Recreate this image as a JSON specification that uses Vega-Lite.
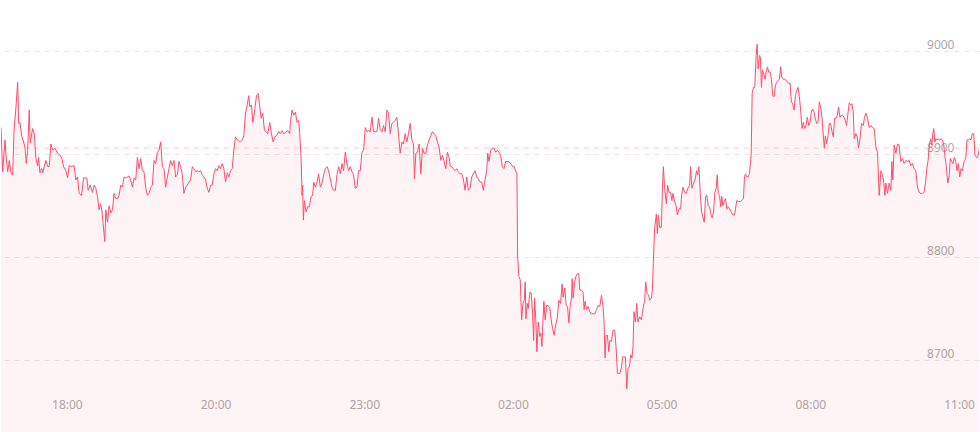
{
  "$schema": "https://vega.github.io/schema/vega-lite/v6.json",
  "width": 980,
  "height": 432,
  "autosize": {"type": "fit", "contains": "padding"},
  "padding": 0,
  "background": "#ffffff",
  "config": {"view": {"stroke": null}},
  "datasets": {
    "ref": [{"ref": 8906}],
    "px": [
{"i":0,"v":8926},{"i":1.7,"v":8883},{"i":4,"v":8914},{"i":5,"v":8899},{"i":6.7,"v":8883},{"i":8.3,"v":8894},{"i":10,"v":8882},{"i":11.7,"v":8880},{"i":13,"v":8922},{"i":15,"v":8946},{"i":16.7,"v":8970},{"i":17.7,"v":8930},{"i":19,"v":8931},{"i":20.7,"v":8918},{"i":22.7,"v":8912},{"i":24,"v":8907},{"i":25.3,"v":8891},{"i":26.7,"v":8904},{"i":28.3,"v":8943},{"i":29.3,"v":8911},{"i":31.7,"v":8925},{"i":33.3,"v":8920},{"i":35,"v":8896},{"i":36.7,"v":8889},{"i":37.7,"v":8897},{"i":39,"v":8882},{"i":40.7,"v":8886},{"i":42,"v":8882},{"i":43.3,"v":8888},{"i":45,"v":8894},{"i":46.7,"v":8888},{"i":48.3,"v":8888},{"i":50,"v":8910},{"i":51.7,"v":8904},{"i":54,"v":8906},{"i":56.7,"v":8901},{"i":59.3,"v":8899},{"i":61,"v":8896},{"i":62.7,"v":8888},{"i":65,"v":8884},{"i":66.7,"v":8877},{"i":68.3,"v":8889},{"i":70.7,"v":8888},{"i":73.3,"v":8889},{"i":75,"v":8875},{"i":76.7,"v":8878},{"i":78.3,"v":8862},{"i":80.7,"v":8860},{"i":82.7,"v":8877},{"i":86,"v":8877},{"i":87.3,"v":8865},{"i":89.3,"v":8870},{"i":91.7,"v":8863},{"i":93.3,"v":8870},{"i":95,"v":8867},
{"i":96.7,"v":8859},{"i":98.3,"v":8846},{"i":99.7,"v":8852},{"i":101,"v":8846},{"i":102.3,"v":8833},{"i":104,"v":8815},{"i":105,"v":8846},{"i":106.7,"v":8834},{"i":108.3,"v":8850},{"i":110,"v":8843},{"i":111.7,"v":8846},{"i":113.3,"v":8862},{"i":115,"v":8857},{"i":116.7,"v":8857},{"i":118.3,"v":8860},{"i":120,"v":8870},{"i":121.7,"v":8868},{"i":123.3,"v":8878},{"i":125,"v":8877},{"i":126.7,"v":8878},{"i":128.3,"v":8879},{"i":130,"v":8875},{"i":131.7,"v":8868},{"i":133.3,"v":8877},{"i":135,"v":8875},{"i":136.7,"v":8897},{"i":138.3,"v":8886},{"i":140,"v":8896},{"i":141.7,"v":8884},{"i":143.3,"v":8883},{"i":145,"v":8868},{"i":146.7,"v":8860},{"i":148.3,"v":8862},{"i":150,"v":8868},{"i":151.7,"v":8870},{"i":153.3,"v":8894},{"i":155,"v":8891},{"i":156.7,"v":8902},{"i":158.3,"v":8904},{"i":160,"v":8912},{"i":161.7,"v":8888},{"i":163.3,"v":8886},{"i":165,"v":8868},{"i":166.7,"v":8878},{"i":168.3,"v":8886},{"i":170,"v":8894},{"i":171.7,"v":8889},{"i":173.3,"v":8894},{"i":175,"v":8878},{"i":176.7,"v":8880},{"i":178.3,"v":8893},{"i":180,"v":8888},{"i":181.7,"v":8880},{"i":183.3,"v":8862},{"i":185,"v":8868},{"i":186.7,"v":8870},{"i":188.3,"v":8873},{"i":190,"v":8875},{"i":191.7,"v":8888},{"i":193.3,"v":8886},{"i":195,"v":8883},
{"i":196.7,"v":8884},{"i":198.3,"v":8883},{"i":200,"v":8884},{"i":201.7,"v":8880},{"i":203.3,"v":8878},{"i":205,"v":8875},{"i":206.7,"v":8867},{"i":208.3,"v":8863},{"i":210,"v":8870},{"i":211.7,"v":8870},{"i":213.3,"v":8881},{"i":215,"v":8886},{"i":216.7,"v":8884},{"i":218.3,"v":8889},{"i":220,"v":8886},{"i":221.7,"v":8891},{"i":223.3,"v":8886},{"i":225,"v":8873},{"i":226.7,"v":8882},{"i":228.3,"v":8878},{"i":230,"v":8884},{"i":231.7,"v":8886},{"i":233.3,"v":8904},{"i":235,"v":8917},{"i":236.7,"v":8914},{"i":238.3,"v":8913},{"i":240,"v":8912},{"i":241.7,"v":8914},{"i":243.3,"v":8918},{"i":245,"v":8940},{"i":246.7,"v":8948},{"i":248.3,"v":8957},{"i":249.3,"v":8946},{"i":251,"v":8948},{"i":252.3,"v":8931},{"i":254,"v":8941},{"i":256,"v":8957},{"i":257.7,"v":8959},{"i":259,"v":8949},{"i":260.7,"v":8935},{"i":262.3,"v":8940},{"i":264,"v":8923},{"i":265.7,"v":8922},{"i":267.3,"v":8920},{"i":269.3,"v":8931},{"i":271,"v":8920},{"i":272.7,"v":8912},{"i":274.3,"v":8917},{"i":276,"v":8918},{"i":278.3,"v":8922},{"i":280,"v":8920},{"i":281.7,"v":8923},{"i":283.3,"v":8920},{"i":285.7,"v":8922},{"i":287.3,"v":8923},{"i":289.3,"v":8920},
{"i":290,"v":8931},{"i":291.7,"v":8943},{"i":293.3,"v":8938},{"i":295,"v":8941},{"i":296.7,"v":8931},{"i":298.3,"v":8933},{"i":299.3,"v":8920},{"i":300.7,"v":8897},{"i":301.7,"v":8860},{"i":302.3,"v":8870},{"i":303,"v":8836},{"i":304,"v":8855},{"i":305.7,"v":8844},{"i":307.3,"v":8849},{"i":309,"v":8849},{"i":310.7,"v":8859},{"i":312.3,"v":8860},{"i":313.3,"v":8873},{"i":315,"v":8868},{"i":316.7,"v":8873},{"i":318.3,"v":8881},{"i":320,"v":8868},{"i":321.7,"v":8872},{"i":323.3,"v":8880},{"i":325,"v":8886},{"i":326.7,"v":8888},{"i":328.3,"v":8884},{"i":330,"v":8876},{"i":331.7,"v":8868},{"i":333.3,"v":8865},{"i":335,"v":8865},{"i":336.7,"v":8880},{"i":338.3,"v":8888},{"i":340,"v":8881},{"i":341.7,"v":8891},{"i":343.3,"v":8884},{"i":345,"v":8902},{"i":346.7,"v":8891},{"i":348.3,"v":8884},{"i":350,"v":8888},{"i":351.7,"v":8883},{"i":353.3,"v":8880},{"i":355,"v":8867},{"i":356.7,"v":8868},{"i":358.3,"v":8884},{"i":360,"v":8884},{"i":361.7,"v":8902},{"i":363.3,"v":8904},{"i":365,"v":8926},{"i":366.7,"v":8922},{"i":368.3,"v":8923},{"i":370,"v":8922},{"i":371.7,"v":8936},{"i":373.3,"v":8922},{"i":375,"v":8922},{"i":376.7,"v":8922},{"i":378.3,"v":8935},{"i":380,"v":8924},{"i":381.7,"v":8922},{"i":383.3,"v":8928},{"i":385,"v":8922},
{"i":386.7,"v":8943},{"i":388.3,"v":8940},{"i":390,"v":8920},{"i":391.7,"v":8930},{"i":393.3,"v":8931},{"i":395,"v":8933},{"i":396.7,"v":8936},{"i":398.3,"v":8920},{"i":400,"v":8901},{"i":401.7,"v":8912},{"i":403.3,"v":8910},{"i":405,"v":8920},{"i":406.7,"v":8912},{"i":408.3,"v":8920},{"i":410,"v":8930},{"i":411.7,"v":8914},{"i":413.3,"v":8910},{"i":414.3,"v":8876},{"i":415.7,"v":8901},{"i":417.3,"v":8902},{"i":419,"v":8910},{"i":420.7,"v":8881},{"i":422.3,"v":8906},{"i":424,"v":8901},{"i":425.7,"v":8901},{"i":427.3,"v":8909},{"i":429,"v":8914},{"i":430.7,"v":8918},{"i":432.3,"v":8922},{"i":434,"v":8920},{"i":435.7,"v":8918},{"i":437.3,"v":8912},{"i":439,"v":8907},{"i":440.7,"v":8894},{"i":442.3,"v":8899},{"i":444,"v":8893},{"i":445.7,"v":8886},{"i":447.3,"v":8902},{"i":449,"v":8897},{"i":450.3,"v":8888},{"i":451.7,"v":8888},{"i":453.3,"v":8886},{"i":455,"v":8884},{"i":456.7,"v":8886},{"i":458.3,"v":8883},{"i":460,"v":8881},{"i":461.7,"v":8881},{"i":463.3,"v":8876},{"i":465,"v":8865},{"i":466.7,"v":8878},{"i":468.3,"v":8865},{"i":470,"v":8867},{"i":471.7,"v":8878},{"i":473.3,"v":8881},{"i":475,"v":8884},{"i":476.7,"v":8878},{"i":478.3,"v":8876},{"i":480,"v":8873},{"i":481.7,"v":8873},{"i":483.3,"v":8865},{"i":485,"v":8875},{"i":486.7,"v":8884},{"i":487.7,"v":8901},{"i":489,"v":8893},{"i":490.7,"v":8904},{"i":492.3,"v":8906},{"i":494,"v":8906},{"i":495.7,"v":8902},{"i":497.3,"v":8904},{"i":499,"v":8902},{"i":500.7,"v":8899},{"i":502.3,"v":8888},{"i":504,"v":8886},{"i":505.7,"v":8893},{"i":508.3,"v":8893},{"i":510.7,"v":8891},{"i":512.7,"v":8888},{"i":514.3,"v":8888},{"i":516,"v":8883},{"i":517,"v":8881},
{"i":517.7,"v":8800},{"i":519,"v":8781},{"i":520.3,"v":8778},{"i":521.7,"v":8739},{"i":523,"v":8755},{"i":524.3,"v":8758},{"i":525.3,"v":8776},{"i":526,"v":8740},{"i":527.3,"v":8755},{"i":528.3,"v":8750},{"i":530,"v":8766},{"i":531.3,"v":8765},{"i":532.7,"v":8745},{"i":533.7,"v":8719},{"i":534.7,"v":8760},{"i":536,"v":8737},{"i":537,"v":8708},{"i":538.3,"v":8737},{"i":539.7,"v":8723},{"i":541,"v":8726},{"i":542,"v":8713},{"i":543,"v":8737},{"i":544,"v":8757},{"i":545.3,"v":8739},{"i":546.7,"v":8753},{"i":548.3,"v":8753},{"i":550,"v":8750},{"i":551.3,"v":8739},{"i":552.7,"v":8731},{"i":554.3,"v":8724},{"i":555.7,"v":8734},{"i":557.3,"v":8740},{"i":559,"v":8758},{"i":560.7,"v":8755},{"i":562.3,"v":8774},{"i":563.3,"v":8761},{"i":565,"v":8770},{"i":566.3,"v":8753},{"i":567.7,"v":8752},{"i":569,"v":8736},{"i":570.3,"v":8752},{"i":571.7,"v":8761},{"i":572.3,"v":8779},{"i":573.3,"v":8760},{"i":574.7,"v":8776},{"i":576,"v":8781},{"i":577.7,"v":8784},{"i":579,"v":8784},{"i":580,"v":8768},{"i":581.7,"v":8768},{"i":583.3,"v":8766},{"i":584.3,"v":8749},{"i":585.3,"v":8757},{"i":586.7,"v":8749},{"i":588.3,"v":8752},{"i":590,"v":8747},{"i":591.7,"v":8745},{"i":593.3,"v":8745},{"i":595,"v":8745},{"i":596.7,"v":8749},{"i":598.3,"v":8753},{"i":600,"v":8752},{"i":601.7,"v":8763},{"i":603.3,"v":8752},{"i":604.3,"v":8737},{"i":605.3,"v":8702},{"i":606.3,"v":8724},{"i":607.7,"v":8724},{"i":609,"v":8708},{"i":610,"v":8719},{"i":611.7,"v":8718},{"i":613.3,"v":8729},{"i":615,"v":8729},{"i":616.3,"v":8713},{"i":617.7,"v":8687},{"i":619,"v":8687},{"i":620.3,"v":8687},{"i":621.7,"v":8693},{"i":623,"v":8703},{"i":624.3,"v":8703},{"i":625.7,"v":8703},{"i":627,"v":8672},{"i":628.3,"v":8692},{"i":629.7,"v":8693},{"i":631,"v":8705},{"i":632.3,"v":8702},{"i":633.3,"v":8713},{"i":634.3,"v":8747},{"i":635.7,"v":8737},{"i":637,"v":8755},{"i":638.3,"v":8737},{"i":640,"v":8742},{"i":641.7,"v":8739},{"i":643.3,"v":8750},{"i":645,"v":8758},
{"i":646,"v":8776},{"i":647.3,"v":8765},{"i":649,"v":8763},{"i":650,"v":8758},{"i":651.7,"v":8760},{"i":652.7,"v":8768},{"i":654,"v":8804},{"i":655,"v":8829},{"i":656.7,"v":8842},{"i":657.7,"v":8823},{"i":658.7,"v":8841},{"i":660,"v":8829},{"i":661.7,"v":8829},{"i":662.7,"v":8865},{"i":663.7,"v":8888},{"i":665,"v":8867},{"i":666.7,"v":8852},{"i":668,"v":8870},{"i":669.3,"v":8863},{"i":671,"v":8863},{"i":672.3,"v":8855},{"i":673.3,"v":8862},{"i":675,"v":8854},{"i":676.7,"v":8849},{"i":677.7,"v":8841},{"i":679.3,"v":8847},{"i":681,"v":8847},{"i":682,"v":8860},{"i":683.3,"v":8868},{"i":685,"v":8863},{"i":686.7,"v":8862},{"i":688.3,"v":8867},{"i":690,"v":8870},{"i":691,"v":8888},{"i":692.3,"v":8867},{"i":694,"v":8872},{"i":695.7,"v":8876},{"i":697,"v":8884},{"i":698,"v":8880},{"i":699.3,"v":8888},{"i":700.7,"v":8862},{"i":702,"v":8844},{"i":703.3,"v":8839},{"i":704.7,"v":8834},{"i":706,"v":8859},{"i":707.3,"v":8860},{"i":708.7,"v":8850},{"i":710,"v":8849},{"i":711.3,"v":8842},{"i":712.7,"v":8838},{"i":714,"v":8844},{"i":715.3,"v":8863},{"i":716.7,"v":8867},{"i":717.7,"v":8880},{"i":718.7,"v":8862},{"i":720,"v":8860},{"i":721.3,"v":8849},{"i":722.3,"v":8859},{"i":723.3,"v":8850},{"i":724.7,"v":8854},{"i":726,"v":8857},{"i":727.3,"v":8847},{"i":728.7,"v":8849},{"i":730,"v":8847},{"i":731.7,"v":8844},{"i":733.3,"v":8841},{"i":735,"v":8841},{"i":736,"v":8847},{"i":737.3,"v":8855},{"i":739,"v":8854},{"i":740.7,"v":8854},{"i":742.3,"v":8855},{"i":744,"v":8857},{"i":745,"v":8878},{"i":746,"v":8881},{"i":747.3,"v":8878},{"i":748.7,"v":8878},{"i":750,"v":8881},
{"i":751.7,"v":8899},{"i":752.7,"v":8959},{"i":754,"v":8965},{"i":755.3,"v":8965},{"i":756.7,"v":8996},{"i":757.7,"v":9007},{"i":758.7,"v":8983},{"i":760,"v":8996},{"i":761,"v":8994},{"i":762,"v":8965},{"i":763,"v":8982},{"i":764.3,"v":8978},{"i":765.7,"v":8973},{"i":766.7,"v":8980},{"i":768,"v":8985},{"i":769.3,"v":8980},{"i":770.7,"v":8980},{"i":772,"v":8973},{"i":773.3,"v":8957},{"i":774.7,"v":8956},{"i":776,"v":8967},{"i":777.3,"v":8970},{"i":778.7,"v":8972},{"i":780,"v":8973},{"i":781.3,"v":8985},{"i":782.3,"v":8975},{"i":784,"v":8973},{"i":785.3,"v":8973},{"i":786.7,"v":8972},{"i":788,"v":8970},{"i":789.3,"v":8969},{"i":790.7,"v":8969},{"i":792,"v":8951},{"i":793.3,"v":8949},{"i":794.7,"v":8943},{"i":796,"v":8957},{"i":797.3,"v":8962},{"i":798.7,"v":8965},{"i":800,"v":8956},{"i":801.3,"v":8943},{"i":802.7,"v":8925},{"i":804,"v":8931},{"i":805.3,"v":8925},{"i":806.7,"v":8928},{"i":808,"v":8936},{"i":809.3,"v":8928},{"i":810.7,"v":8931},{"i":812,"v":8941},{"i":813.3,"v":8944},{"i":814.7,"v":8941},{"i":816,"v":8935},{"i":817.3,"v":8930},{"i":818.7,"v":8931},{"i":820,"v":8951},{"i":821.3,"v":8946},{"i":822.7,"v":8936},{"i":824,"v":8918},{"i":825,"v":8906},{"i":826,"v":8918},{"i":827.3,"v":8910},{"i":828.7,"v":8918},{"i":830,"v":8930},{"i":831.3,"v":8930},{"i":832.7,"v":8922},{"i":834,"v":8917},{"i":835.3,"v":8935},{"i":836.7,"v":8935},{"i":838,"v":8938},{"i":839.3,"v":8946},{"i":840.7,"v":8936},{"i":842,"v":8938},{"i":843.3,"v":8938},{"i":844.7,"v":8936},{"i":846,"v":8933},{"i":847.3,"v":8928},{"i":848.7,"v":8940},{"i":850,"v":8950},{"i":851.3,"v":8948},{"i":852.7,"v":8949},{"i":854,"v":8941},{"i":855,"v":8915},{"i":856.7,"v":8920},{"i":858,"v":8917},{"i":859.3,"v":8906},
{"i":860.7,"v":8915},{"i":862.3,"v":8930},{"i":864,"v":8928},{"i":865.3,"v":8936},{"i":866.7,"v":8940},{"i":868.3,"v":8935},{"i":870,"v":8926},{"i":871.7,"v":8928},{"i":873.3,"v":8926},{"i":875,"v":8925},{"i":876.7,"v":8907},{"i":878.3,"v":8902},{"i":880,"v":8860},{"i":881.7,"v":8884},{"i":883.3,"v":8880},{"i":884.3,"v":8875},{"i":885.7,"v":8860},{"i":886.7,"v":8872},{"i":888.3,"v":8862},{"i":890,"v":8872},{"i":891.7,"v":8865},{"i":892.7,"v":8893},{"i":893.7,"v":8875},{"i":895,"v":8909},{"i":896.7,"v":8901},{"i":898.3,"v":8910},{"i":900,"v":8909},{"i":901.7,"v":8893},{"i":903.3,"v":8896},{"i":905,"v":8891},{"i":906.7,"v":8894},{"i":908.3,"v":8893},{"i":910,"v":8894},{"i":911.7,"v":8889},{"i":913.3,"v":8891},{"i":915,"v":8886},{"i":916.7,"v":8884},{"i":918.3,"v":8868},{"i":920,"v":8863},{"i":921.7,"v":8862},{"i":923.3,"v":8862},{"i":925,"v":8863},{"i":926.7,"v":8875},{"i":927.7,"v":8886},{"i":929,"v":8894},{"i":930.3,"v":8910},{"i":931.7,"v":8915},{"i":932.7,"v":8909},{"i":933.7,"v":8920},{"i":934.7,"v":8925},{"i":935.7,"v":8912},{"i":936.7,"v":8915},{"i":938,"v":8914},{"i":939.3,"v":8915},{"i":940.7,"v":8914},{"i":942,"v":8915},{"i":943.3,"v":8914},{"i":944.7,"v":8909},{"i":946,"v":8897},{"i":947.3,"v":8888},{"i":948.7,"v":8872},{"i":950,"v":8878},{"i":951.3,"v":8896},{"i":952.7,"v":8893},{"i":954,"v":8891},{"i":955.3,"v":8897},{"i":956.7,"v":8893},{"i":958,"v":8884},{"i":959.3,"v":8891},{"i":960.7,"v":8878},{"i":962,"v":8886},{"i":963.3,"v":8884},{"i":965,"v":8893},{"i":966.7,"v":8896},{"i":968,"v":8914},{"i":969.3,"v":8914},{"i":970.7,"v":8915},{"i":972,"v":8914},{"i":973.3,"v":8920},{"i":974.7,"v":8920},{"i":976,"v":8899},{"i":977.3,"v":8897},{"i":978.7,"v":8897},{"i":980,"v":8904}
    ]
  },
  "layer": [
    {
      "data": {"name": "px"},
      "mark": {"type": "area", "color": "#f5455c", "fillOpacity": 0.06, "clip": true, "interpolate": "linear"},
      "encoding": {
        "x": {"field": "i", "type": "quantitative", "scale": {"domain": [0, 980], "nice": false, "zero": false},
          "axis": {"title": null, "domain": false, "ticks": false, "grid": false, "values": [66, 215, 364, 513, 662, 811, 960],
            "labelExpr": "datum.value == 66 ? '18:00' : datum.value == 215 ? '20:00' : datum.value == 364 ? '23:00' : datum.value == 513 ? '02:00' : datum.value == 662 ? '05:00' : datum.value == 811 ? '08:00' : '11:00'",
            "labelPadding": -28, "labelBaseline": "middle", "labelAlign": "center", "labelColor": "#aaaaaa", "labelFont": "Noto Sans", "labelFontSize": 12, "labelFlush": false, "labelOverlap": false}},
        "y": {"field": "v", "type": "quantitative", "scale": {"domain": [8630, 9050], "nice": false, "zero": false},
          "axis": {"title": null, "orient": "right", "domain": false, "ticks": false, "grid": true, "gridColor": "#e6e6e6", "gridDash": [5, 5], "gridWidth": 1, "format": "d",
            "values": [8700, 8800, 8900, 9000], "labelAlign": "right", "labelPadding": -25, "labelBaseline": "bottom", "labelColor": "#aaaaaa", "labelFont": "Noto Sans", "labelFontSize": 12, "labelOverlap": false}}
      }
    },
    {
      "data": {"name": "ref"},
      "mark": {"type": "rule", "color": "#ffc6d0", "strokeDash": [5, 5], "strokeWidth": 1},
      "encoding": {"y": {"field": "ref", "type": "quantitative"}}
    },
    {
      "data": {"name": "px"},
      "mark": {"type": "line", "color": "#ff4d6d", "strokeWidth": 1, "clip": true, "interpolate": "linear"},
      "encoding": {
        "x": {"field": "i", "type": "quantitative"},
        "y": {"field": "v", "type": "quantitative"}
      }
    }
  ]
}
